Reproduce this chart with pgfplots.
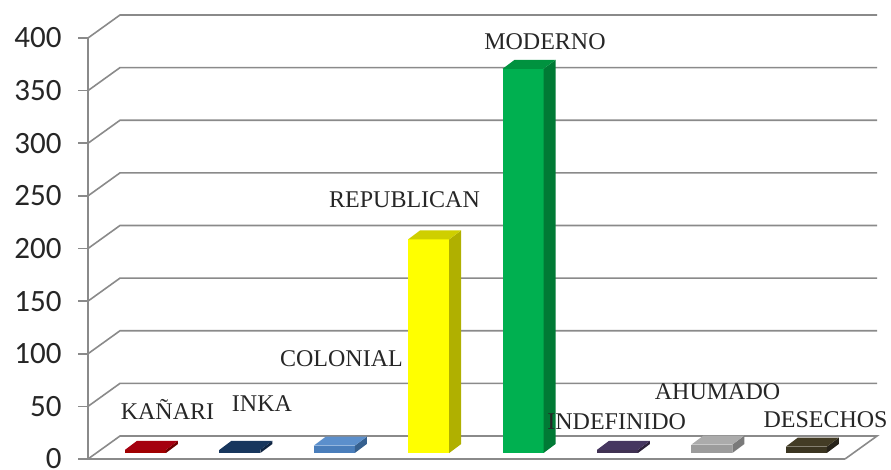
\documentclass[border=0pt]{standalone}
\usepackage{pgfplots}
\pgfplotsset{compat=1.18}
\usepackage{fontspec}
\setmainfont{Liberation Serif}
\newfontfamily\carlito{Carlito}
\definecolor{gridc}{HTML}{8A8A8A}
\definecolor{kanF}{HTML}{A00000}\definecolor{kanS}{HTML}{6E0000}\definecolor{kanT}{HTML}{A50010}
\definecolor{inkF}{HTML}{17365D}\definecolor{inkS}{HTML}{0E2340}\definecolor{inkT}{HTML}{17365D}
\definecolor{colF}{HTML}{4A7EBB}\definecolor{colS}{HTML}{36608F}\definecolor{colT}{HTML}{5B8FCC}
\definecolor{repF}{HTML}{FFFF00}\definecolor{repS}{HTML}{B0B000}\definecolor{repT}{HTML}{CFCF00}
\definecolor{modF}{HTML}{00B050}\definecolor{modS}{HTML}{007A35}\definecolor{modT}{HTML}{00923F}
\definecolor{indF}{HTML}{403152}\definecolor{indS}{HTML}{2C2139}\definecolor{indT}{HTML}{463660}
\definecolor{ahuF}{HTML}{9C9C9C}\definecolor{ahuS}{HTML}{7A7A7A}\definecolor{ahuT}{HTML}{ABABAB}
\definecolor{desF}{HTML}{3B3521}\definecolor{desS}{HTML}{27231A}\definecolor{desT}{HTML}{433C25}
\begin{document}
\begin{tikzpicture}
\begin{axis}[
  at={(88pt,11pt)}, anchor=south west,
  scale only axis, width=757pt, height=421pt,
  xmin=-0.609, xmax=7.41, ymin=-5.7, ymax=394.3,
  clip=false,
  axis x line*=bottom, axis y line*=left,
  axis line style={gridc, line width=1.6pt},
  xtick=\empty,
  ytick={-5.7,44.3,94.3,144.3,194.3,244.3,294.3,344.3,394.3},
  yticklabels={0,50,100,150,200,250,300,350,400},
  tick align=outside, major tick length=10pt,
  tick style={gridc, line width=1.6pt},
  yticklabel style={font=\carlito\fontsize{31}{31}\selectfont, text=black!85, xshift=-13pt},
]
% walls
\draw[gridc, line width=1.6pt] (axis cs:-0.609,-5.7) -- (axis cs:-0.27,16.15) -- (axis cs:7.749,16.15) -- (axis cs:7.41,-5.7);
\draw[gridc, line width=1.6pt] (axis cs:-0.609,44.3) -- (axis cs:-0.27,66.15) -- (axis cs:7.749,66.15);
\draw[gridc, line width=1.6pt] (axis cs:-0.609,94.3) -- (axis cs:-0.27,116.15) -- (axis cs:7.749,116.15);
\draw[gridc, line width=1.6pt] (axis cs:-0.609,144.3) -- (axis cs:-0.27,166.15) -- (axis cs:7.749,166.15);
\draw[gridc, line width=1.6pt] (axis cs:-0.609,194.3) -- (axis cs:-0.27,216.15) -- (axis cs:7.749,216.15);
\draw[gridc, line width=1.6pt] (axis cs:-0.609,244.3) -- (axis cs:-0.27,266.15) -- (axis cs:7.749,266.15);
\draw[gridc, line width=1.6pt] (axis cs:-0.609,294.3) -- (axis cs:-0.27,316.15) -- (axis cs:7.749,316.15);
\draw[gridc, line width=1.6pt] (axis cs:-0.609,344.3) -- (axis cs:-0.27,366.15) -- (axis cs:7.749,366.15);
\draw[gridc, line width=1.6pt] (axis cs:-0.609,394.3) -- (axis cs:-0.27,416.15) -- (axis cs:7.749,416.15);
% KANARI
\addplot[ybar, bar width=0.434, bar shift=0pt, fill=kanF, draw=none] coordinates {(0,3)};
\addplot[fill=kanS, draw=none] coordinates {(0.217,0) (0.344,8.55) (0.344,11.55) (0.217,3)} -- cycle;
\addplot[fill=kanT, draw=none] coordinates {(-0.217,3) (0.217,3) (0.344,11.55) (-0.09,11.55)} -- cycle;
% INKA
\addplot[ybar, bar width=0.434, bar shift=0pt, fill=inkF, draw=none] coordinates {(1,3)};
\addplot[fill=inkS, draw=none] coordinates {(1.217,0) (1.344,8.55) (1.344,11.55) (1.217,3)} -- cycle;
\addplot[fill=inkT, draw=none] coordinates {(0.783,3) (1.217,3) (1.344,11.55) (0.91,11.55)} -- cycle;
% COLONIAL
\addplot[ybar, bar width=0.434, bar shift=0pt, fill=colF, draw=none] coordinates {(2,7)};
\addplot[fill=colS, draw=none] coordinates {(2.217,0) (2.344,8.55) (2.344,15.55) (2.217,7)} -- cycle;
\addplot[fill=colT, draw=none] coordinates {(1.783,7) (2.217,7) (2.344,15.55) (1.91,15.55)} -- cycle;
% REPUBLICAN
\addplot[ybar, bar width=0.434, bar shift=0pt, fill=repF, draw=none] coordinates {(3,203)};
\addplot[fill=repS, draw=none] coordinates {(3.217,0) (3.344,8.55) (3.344,211.55) (3.217,203)} -- cycle;
\addplot[fill=repT, draw=none] coordinates {(2.783,203) (3.217,203) (3.344,211.55) (2.91,211.55)} -- cycle;
% MODERNO
\addplot[ybar, bar width=0.434, bar shift=0pt, fill=modF, draw=none] coordinates {(4,365)};
\addplot[fill=modS, draw=none] coordinates {(4.217,0) (4.344,8.55) (4.344,373.55) (4.217,365)} -- cycle;
\addplot[fill=modT, draw=none] coordinates {(3.783,365) (4.217,365) (4.344,373.55) (3.91,373.55)} -- cycle;
% INDEFINIDO
\addplot[ybar, bar width=0.434, bar shift=0pt, fill=indF, draw=none] coordinates {(5,3)};
\addplot[fill=indS, draw=none] coordinates {(5.217,0) (5.344,8.55) (5.344,11.55) (5.217,3)} -- cycle;
\addplot[fill=indT, draw=none] coordinates {(4.783,3) (5.217,3) (5.344,11.55) (4.91,11.55)} -- cycle;
% AHUMADO
\addplot[ybar, bar width=0.434, bar shift=0pt, fill=ahuF, draw=none] coordinates {(6,8)};
\addplot[fill=ahuS, draw=none] coordinates {(6.217,0) (6.344,8.55) (6.344,16.55) (6.217,8)} -- cycle;
\addplot[fill=ahuT, draw=none] coordinates {(5.783,8) (6.217,8) (6.344,16.55) (5.91,16.55)} -- cycle;
% DESECHOS
\addplot[ybar, bar width=0.434, bar shift=0pt, fill=desF, draw=none] coordinates {(7,6)};
\addplot[fill=desS, draw=none] coordinates {(7.217,0) (7.344,8.55) (7.344,14.55) (7.217,6)} -- cycle;
\addplot[fill=desT, draw=none] coordinates {(6.783,6) (7.217,6) (7.344,14.55) (6.91,14.55)} -- cycle;
% labels
\begin{scope}[every node/.style={anchor=base, inner sep=0pt, text=black!85, font=\fontsize{24}{24}\selectfont}]
\node at (axis cs:0.233,31.4) {KAÑARI};
\node at (axis cs:1.234,39.2) {INKA};
\node at (axis cs:2.076,82.0) {COLONIAL};
\node at (axis cs:2.744,233.3) {REPUBLICAN};
\node at (axis cs:4.232,383.8) {MODERNO};
\node at (axis cs:4.992,21.9) {INDEFINIDO};
\node at (axis cs:6.060,50.4) {AHUMADO};
\node at (axis cs:7.204,23.8) {DESECHOS};
\end{scope}
\end{axis}
\pgfresetboundingbox
\path[use as bounding box] (0,0) rectangle (891pt,470pt);
\end{tikzpicture}
\end{document}
